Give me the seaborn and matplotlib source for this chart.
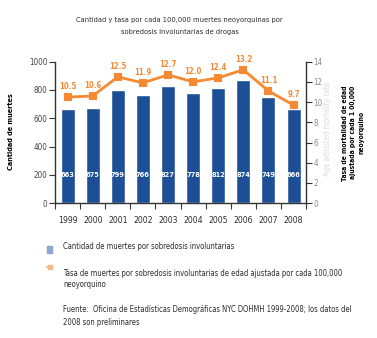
import matplotlib
matplotlib.use("Agg")
import matplotlib.pyplot as plt
from matplotlib import font_manager as fm
import seaborn as sns
import pandas as pd
import numpy as np

years = ["1999", "2000", "2001", "2002", "2003", "2004", "2005", "2006", "2007", "2008"]
deaths = [663, 675, 799, 766, 827, 778, 812, 874, 749, 666]
rates = [10.5, 10.6, 12.5, 11.9, 12.7, 12.0, 12.4, 13.2, 11.1, 9.7]

BLUE = "#1D4F96"
ORANGE = "#F58A32"
DARK = "#2b2b2b"

sns.set_theme(style="white")

# pick a narrow face if one is installed
narrow = [f for f in fm.fontManager.ttflist
          if f.stretch in ("condensed", "semi-condensed", "extra-condensed", 75, 87)
          or "Narrow" in f.name or "Condensed" in f.name]
names = []
for f in narrow:
    if f.name not in names:
        names.append(f.name)
stretch = "condensed" if narrow else "normal"
plt.rcParams["font.family"] = names[:1] + ["DejaVu Sans"]
plt.rcParams["font.stretch"] = stretch

df = pd.DataFrame({"year": years, "deaths": deaths, "rate": rates})

fig = plt.figure(figsize=(3.77, 3.38), dpi=100)
ax = fig.add_axes([0.146, 0.399, 0.666, 0.4185])

sns.barplot(data=df, x="year", y="deaths", color=BLUE, saturation=1,
            width=0.56, ax=ax)
ax.set_ylim(0, 1000)
ax.set_xlim(-0.5, 9.5)
ax.set_yticks(range(0, 1001, 200))
ax.set_xlabel("")
ax.set_ylabel("")
for s in ["top", "right"]:
    ax.spines[s].set_visible(False)
for s in ["left", "bottom"]:
    ax.spines[s].set_color("#333333")
    ax.spines[s].set_linewidth(1.0)
ax.tick_params(axis="y", left=True, length=4, width=0.8, color="#333333",
               labelsize=5.8, labelcolor="#444444", pad=1.5)
ax.set_xticks(np.arange(10))
ax.set_xticklabels(years)
ax.tick_params(axis="x", bottom=False, labelsize=6.2, labelcolor=DARK, pad=3)
ax.set_xticks(np.arange(-0.5, 10, 1), minor=True)
ax.tick_params(axis="x", which="minor", bottom=True, length=4, width=0.8,
               color="#333333")

for i, v in enumerate(deaths):
    ax.text(i, 200, str(v), ha="center", va="center", color="white",
            fontsize=5.3, fontweight="bold")

ax2 = ax.twinx()
sns.pointplot(data=df, x="year", y="rate", color=ORANGE, markers="s",
              linestyles="-", markersize=5, linewidth=2, ax=ax2)
ax2.set_ylim(0, 14)
ax2.set_xlim(-0.5, 9.5)
ax2.set_yticks(range(0, 15, 2))
ax2.set_ylabel("")
ax2.set_xlabel("")
for s in ["top", "left", "bottom"]:
    ax2.spines[s].set_visible(False)
ax2.spines["right"].set_color("#333333")
ax2.spines["right"].set_linewidth(1.0)
ax2.tick_params(axis="y", right=True, length=4, width=0.8, color="#333333",
                labelsize=5.8, labelcolor="#8a8a8a", pad=1.5)
for i, r in enumerate(rates):
    ax2.text(i, r + 0.6, f"{r:.1f}", ha="center", va="bottom", color=ORANGE,
             fontsize=5.6, fontweight="bold")

fig.text(0.477, 0.941, "Cantidad y tasa por cada 100,000 muertes neoyorquinas por",
         ha="center", va="center", fontsize=5.4, color=DARK)
fig.text(0.477, 0.905, "sobredosis involuntarias de drogas",
         ha="center", va="center", fontsize=5.4, color=DARK)

fig.text(0.029, 0.61, "Cantidad de muertes", rotation=90, ha="center",
         va="center", fontsize=5.2, fontweight="bold", color="black")
fig.text(0.868, 0.62, "Age adjusted mortality rate", rotation=90, ha="center",
         va="center", fontsize=5.5, color="#dcdcdc")
fig.text(0.937, 0.607,
         "Tasa de mortalidad de edad\najustada por cada 1 00,000\nneoyorquino",
         rotation=90, ha="center", va="center", fontsize=4.9,
         fontweight="bold", color="black", linespacing=1.45, multialignment="center")

# legend entries
fig.patches.append(plt.Rectangle((0.124, 0.251), 0.013, 0.021,
                                 transform=fig.transFigure,
                                 color="#8ea6cf", zorder=3))
fig.lines.append(plt.Line2D([0.125, 0.136], [0.210, 0.210],
                            transform=fig.transFigure, color="#f7b98a", lw=1.5))
fig.lines.append(plt.Line2D([0.133], [0.210], marker="s", markersize=3,
                            transform=fig.transFigure, color="#f7b98a"))
fig.text(0.167, 0.270, "Cantidad de muertes por sobredosis involuntarias",
         ha="left", va="center", fontsize=5.5, color=DARK)
fig.text(0.167, 0.192,
         "Tasa de muertes por sobredosis involuntarias de edad ajustada por cada 100,000",
         ha="left", va="center", fontsize=5.5, color=DARK)
fig.text(0.167, 0.157, "neoyorquino", ha="left", va="center", fontsize=5.5,
         color=DARK)
fig.text(0.167, 0.083,
         "Fuente:  Oficina de Estadísticas Demográficas NYC DOHMH 1999-2008; los datos del",
         ha="left", va="center", fontsize=5.5, color=DARK)
fig.text(0.167, 0.047, "2008 son preliminares", ha="left", va="center",
         fontsize=5.5, color=DARK)

fig.savefig("out.png", dpi=100, facecolor="white")
